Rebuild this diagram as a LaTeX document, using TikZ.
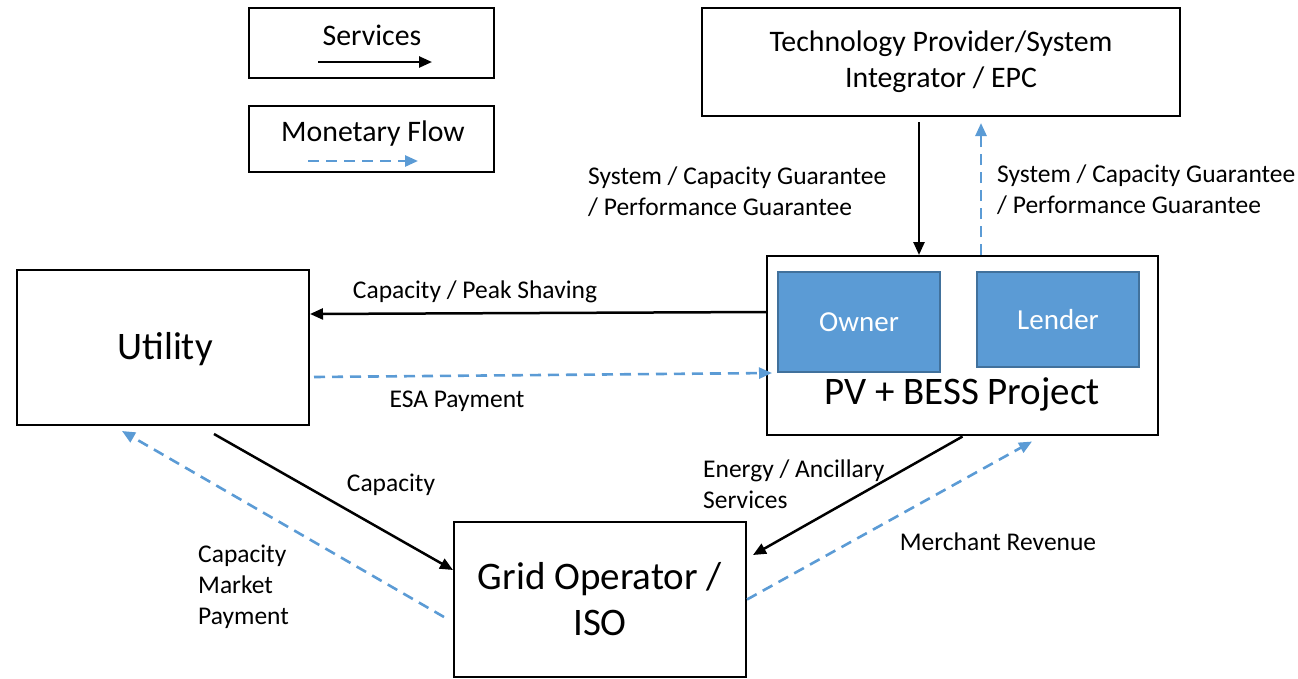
\documentclass[tikz,border=0pt]{standalone}
\usepackage{fontspec}
\setmainfont{Carlito}
\usetikzlibrary{arrows.meta}
\definecolor{flowblue}{HTML}{5B9BD5}
\definecolor{roleedge}{HTML}{41719C}
\newcommand\bigfs{\fontsize{39}{46}\selectfont}
\newcommand\medfs{\fontsize{29.8}{36}\selectfont}
\newcommand\rolefs{\fontsize{29}{35}\selectfont}
\newcommand\smlfs{\fontsize{25.5}{31}\selectfont}
\begin{document}
\begin{tikzpicture}[x=1pt,y=1pt,
  box/.style={draw=black, line width=2pt, inner sep=0pt, align=center},
  role/.style={fill=flowblue, draw=roleedge, line width=1.6pt, text=white, font=\rolefs, inner sep=0pt},
  svc/.style={black, line width=2.5pt, -{Triangle[length=13pt,width=11pt]}},
  pay/.style={flowblue, line width=2.6pt, dash pattern=on 11pt off 7pt, -{Triangle[length=13pt,width=11pt]}},
  lbl/.style={font=\smlfs, inner sep=0pt, align=left}]
\useasboundingbox (0,0) rectangle (1298,-678);

% legend
\node[box, minimum width=245pt, minimum height=70pt] (legS) at (371.5,-43) {};
\node[font=\medfs, inner sep=0pt] (legSt) at (372,-35) {Services};
\coordinate (legSa) at (318,-62);
\coordinate (legSb) at (432,-62);
\draw[svc] (legSa) -- (legSb);

\node[box, minimum width=245pt, minimum height=66pt] (legM) at (371.5,-139) {};
\node[font=\medfs, inner sep=0pt] (legMt) at (373,-134) {Monetary Flow};
\coordinate (legMa) at (308,-161);
\coordinate (legMb) at (418,-161);
\draw[pay] (legMa) -- (legMb);

% parties
\node[box, font=\medfs, minimum width=478pt, minimum height=108pt] (tech) at (941,-62)
  {Technology Provider/System\\Integrator / EPC};
\node[box, minimum width=292pt, minimum height=155pt] (util) at (163,-347.5) {};
\node[font=\bigfs, inner sep=0pt] (utilt) at (165,-349) {Utility};
\node[box, minimum width=391pt, minimum height=179pt] (pv) at (962.5,-345.5) {};
\node[role, minimum width=162pt, minimum height=100pt] (owner) at (859,-322) {Owner};
\node[role, minimum width=162pt, minimum height=95pt] (lender) at (1058,-319.5) {Lender};
\node[font=\bigfs, inner sep=0pt] (pvt) at (962,-394) {PV + BESS Project};
\node[box, font=\bigfs, minimum width=292pt, minimum height=155pt] (grid) at (600,-599.5)
  {Grid Operator /\\ISO};

% services and payments
\draw[svc] ([xshift=-22pt,yshift=-5pt]tech.south) -- ([xshift=-43.5pt]pv.north);
\draw[pay] ([xshift=18.5pt]pv.north) -- ([xshift=40pt,yshift=-6pt]tech.south);

\draw[svc] ([yshift=33.5pt]pv.west) -- ([yshift=33.5pt]util.east);
\draw[pay] ([xshift=4pt,yshift=-29.5pt]util.east) -- ([xshift=6pt,yshift=-27.5pt]pv.west);

\draw[svc] ([xshift=51pt,yshift=-8pt]util.south) -- ([yshift=29.5pt]grid.west);
\draw[pay] ([xshift=-9pt,yshift=-17.5pt]grid.west) -- ([xshift=-41pt,yshift=-5pt]util.south);

\draw[svc] ([yshift=-0.5pt]pv.south) -- ([xshift=6pt,yshift=44.5pt]grid.east);
\draw[pay] (grid.east) -- ([xshift=69.5pt,yshift=-5.5pt]pv.south);

% labels
\node[lbl, anchor=west] (lgl) at (588,-191.5) {System / Capacity Guarantee\\/ Performance Guarantee};
\node[lbl, anchor=west] (lgr) at (997,-189.5) {System / Capacity Guarantee\\/ Performance Guarantee};
\node[lbl] (lpeak) at (475,-292) {Capacity / Peak Shaving};
\node[lbl] (lesa) at (457,-401) {ESA Payment};
\node[lbl] (lcap) at (391,-485) {Capacity};
\node[lbl, anchor=west] (lcmp) at (198,-587) {Capacity\\Market\\Payment};
\node[lbl, anchor=west] (lanc) at (703,-484) {Energy / Ancillary\\Services};
\node[lbl] (lmer) at (998,-542) {Merchant Revenue};
\end{tikzpicture}
\end{document}
